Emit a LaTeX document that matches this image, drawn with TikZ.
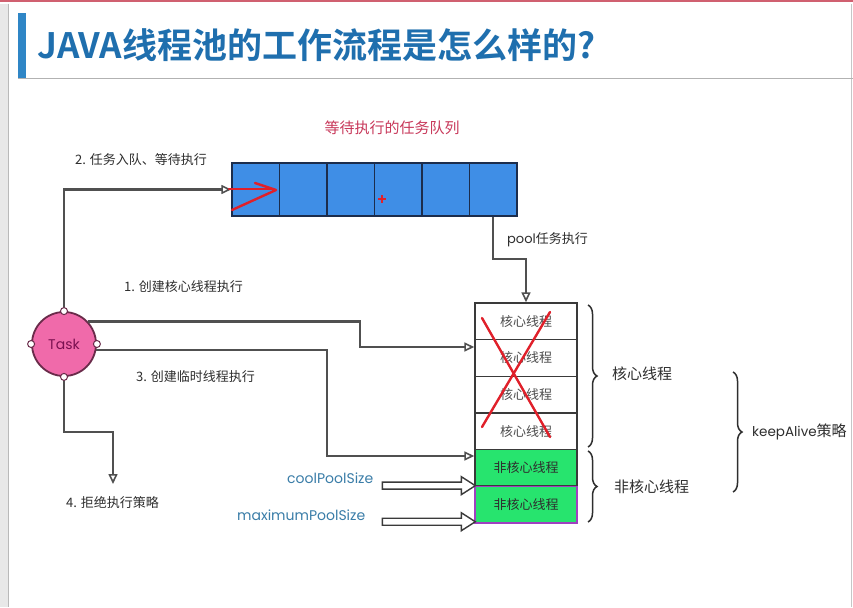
\documentclass[tikz,border=0pt]{standalone}
\usepackage{fontspec}
\setmainfont{Noto Sans CJK SC}
\newfontfamily\titlefont{Noto Sans CJK SC Bold}
\newfontfamily\geo{Poppins}
\usetikzlibrary{arrows.meta,decorations.pathreplacing,calc}

\definecolor{titleblue}{HTML}{1F6FAE}
\definecolor{barblue}{HTML}{2F86C6}
\definecolor{queueblue}{HTML}{3F8EE6}
\definecolor{queueedge}{HTML}{1C2D4C}
\definecolor{linegray}{HTML}{505050}
\definecolor{taskpink}{HTML}{F06AAA}
\definecolor{taskedge}{HTML}{6A2B4A}
\definecolor{tasktext}{HTML}{7A1050}
\definecolor{threadgreen}{HTML}{27E46E}
\definecolor{threadedge}{HTML}{3A3A3A}
\definecolor{purpleedge}{HTML}{A040C0}
\definecolor{markred}{HTML}{E0202A}
\definecolor{sizeblue}{HTML}{3A7DA8}
\definecolor{captionred}{HTML}{C8385A}
\definecolor{labelgray}{HTML}{2E2E2E}
\definecolor{topline}{HTML}{D06070}

\begin{document}
\begin{tikzpicture}[x=1pt,y=-1pt,
  flow/.style={draw=linegray, line width=2.2pt,
    -{Triangle[open,length=10pt,width=9pt,line width=1.6pt]}},
  qcell/.style={draw=queueedge, fill=queueblue, line width=1.5pt,
    minimum width=47.5pt, minimum height=53pt, inner sep=0pt},
  tcell/.style={draw=threadedge, fill=white, line width=1.4pt,
    minimum width=102pt, minimum height=36.67pt, inner sep=0pt,
    text=gray!60!black, font=\fontsize{13}{13}\selectfont},
  ncell/.style={tcell, fill=threadgreen, text=labelgray},
  lbl/.style={anchor=west, text=labelgray, font=\fontsize{13}{13}\selectfont, inner sep=0pt},
  sizelbl/.style={anchor=west, text=sizeblue, font=\geo\fontsize{14}{14}\selectfont, inner sep=0pt},
  bracelbl/.style={anchor=west, text=labelgray, font=\fontsize{15}{15}\selectfont, inner sep=0pt},
  grp/.style={draw=labelgray, line width=1.5pt, decorate,
    decoration={brace, amplitude=9pt}},
  hollow/.style={draw=threadedge, fill=white, line width=1.4pt, line join=miter},
  port/.style={circle, fill=white, draw=taskedge, line width=1pt,
    minimum size=7pt, inner sep=0pt},
  scribble/.style={draw=markred, line width=2.4pt, line cap=round, line join=round}
]
\useasboundingbox (0,0) rectangle (853,607);
\clip (0,0) rectangle (853,607);

% screen frame
\fill[white] (0,0) rectangle (853,607);
\fill[gray!18] (0,4) rectangle (8,607);
\draw[gray!55, line width=1pt] (8.5,4) -- (8.5,607);
\fill[topline] (0,0) rectangle (853,2.5);
\draw[gray!45, line width=1pt] (851.5,4) -- (851.5,607);

% heading
\fill[barblue] (18,13) rectangle (26,78);
\draw[gray!60, line width=1pt] (18,79) -- (853,79);
\node[anchor=west, inner sep=0pt, text=titleblue,
  font=\titlefont\fontsize{35}{35}\selectfont] (title) at (37,45)
  {JAVA线程池的工作流程是怎么样的?};

% waiting queue
\foreach \i in {1,...,6}
  \node[qcell] (q\i) at ({232+47.5*(\i-0.5)},189.5) {};
\node[text=captionred, font=\fontsize{15}{15}\selectfont, inner sep=0pt]
  (qcap) at (392,128) {等待执行的任务队列};

% thread pool column
\foreach \i in {1,...,4}
  \node[tcell] (t\i) at (526,{303+36.67*(\i-0.5)}) {核心线程};
\node[ncell] (t5) at (526,{303+36.67*4.5}) {非核心线程};
\node[ncell, draw=purpleedge] (t6) at (526,{303+36.67*5.5}) {非核心线程};
\draw[threadedge, line width=1.4pt] (t6.north west) -- (t6.north east);

% task
\node[circle, fill=taskpink, draw=taskedge, line width=1.8pt,
  minimum size=64pt, inner sep=0pt, text=tasktext,
  font=\geo\fontsize{14}{14}\selectfont] (task) at (64,344) {Task};

% routing points
\coordinate (e1) at (360,322);
\coordinate (in1) at (t2.west |- 0,347);
\coordinate (e3) at (327,350);
\coordinate (in3) at (t5.west |- 0,456);
\coordinate (e4) at (113,432);
\coordinate (rej) at (113,484);
\coordinate (pe) at (493.5,259);

% connectors
\draw[flow] (task.north) |- (q1.west);
\draw[flow] (task.43) -- (task.43 -| e1) |- (in1);
\draw[flow] (task.-11) -- (task.-11 -| e3) |- (in3);
\draw[flow] (task.south) |- (e4) -- (rej);
\draw[flow] (q6.south) |- (pe) -| (t1.north);

% ports on the task circle
\foreach \a in {north,south,east,west}
  \node[port] at (task.\a) {};

% step labels
\node[lbl] (l2) at (75,160) {2. 任务入队、等待执行};
\node[lbl] (l1) at (124,287) {1. 创建核心线程执行};
\node[lbl] (l3) at (136,377) {3. 创建临时线程执行};
\node[lbl] (l4) at (66,503) {4. 拒绝执行策略};
\node[lbl] (lp) at (507,240) {{\geo pool}任务执行};

% size arrows
\coordinate (tipA) at ($(t6.north west)+(1,0)$);
\coordinate (tipB) at ($(t6.south west)+(1,-2)$);
\coordinate (tailA) at ($(tipA)+(-93,0)$);
\coordinate (tailB) at ($(tipB)+(-93,0)$);
\foreach \s/\t in {tailA/tipA, tailB/tipB}
  \draw[hollow] ($(\s)+(0,-3.5)$) -- ($(\t)+(-14,-3.5)$) -- ($(\t)+(-14,-9)$)
    -- (\t) -- ($(\t)+(-14,9)$) -- ($(\t)+(-14,3.5)$) -- ($(\s)+(0,3.5)$) -- cycle;
\node[sizelbl] (cps) at (287,478) {coolPoolSize};
\node[sizelbl] (mps) at (237,515) {maximumPoolSize};

% braces
\draw[grp] (588,305) -- (588,447) coordinate[midway, xshift=10pt] (b1);
\draw[grp] (588,451) -- (588,522) coordinate[midway, xshift=10pt] (b2);
\draw[grp] (733,372) -- (733,492) coordinate[midway, xshift=10pt] (b3);
\node[bracelbl] (g1) at (612,374) {核心线程};
\node[bracelbl] (g2) at (614,487) {非核心线程};
\node[bracelbl] (g3) at (752,432) {{\geo\fontsize{13.5}{13.5}\selectfont keepAlive}策略};

% hand-drawn marks
\draw[scribble] (229,189) -- (273,189);
\draw[scribble] (255,183) -- (276,190) -- (232,210);
\draw[markred, line width=1.6pt] (378,199) -- (386,199) (382,195) -- (382,203);
\draw[scribble] (482,318) -- (550,437);
\draw[scribble] (550,312) -- (482,427);
\end{tikzpicture}
\end{document}
